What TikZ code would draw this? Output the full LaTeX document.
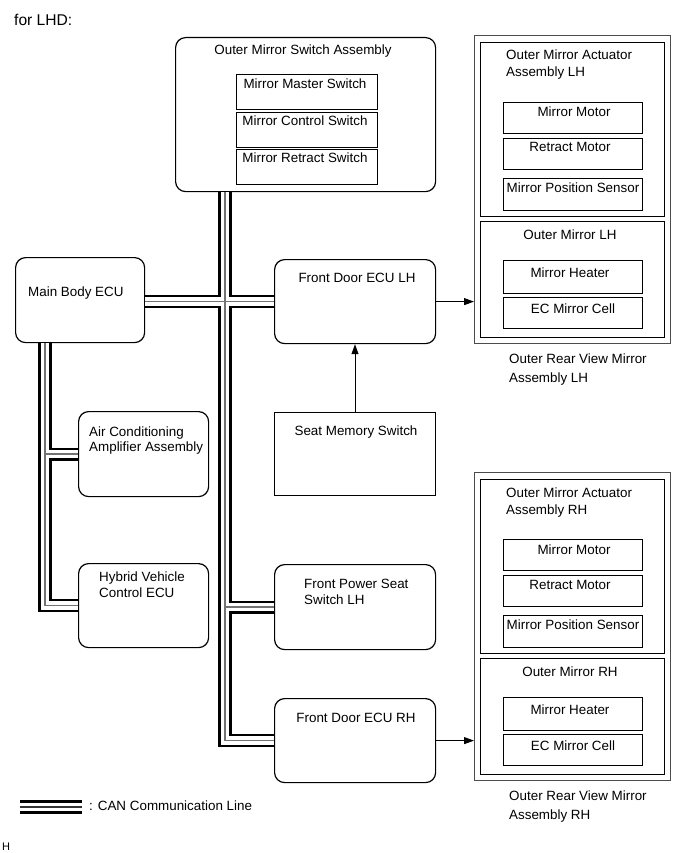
\documentclass[tikz,border=0pt]{standalone}
\usepackage{fontspec}
\setmainfont{Liberation Sans}
\usetikzlibrary{arrows.meta}
\newcommand\fs{\fontsize{13.4}{16}\selectfont}
\newcommand\boxat[6]{\node[#6, minimum width={(#4-#2)*1pt}, minimum height={(#5-#3)*1pt}, anchor=north west] (#1) at (#2,#3) {};}
\tikzset{
  rbox/.style={draw, line width=1.2pt, rounded corners=10pt, fill=white, inner sep=0pt},
  sbox/.style={draw, line width=1pt, fill=white, inner sep=0pt},
  obox/.style={draw=black!70, line width=1pt, fill=white, inner sep=0pt},
  txt/.style={inner sep=0pt, font=\fs},
  canblack/.style={line width=13.2pt, draw=black},
  canwhite/.style={line width=8.6pt, draw=white},
  cangray/.style={line width=1.6pt, draw=black!55},
  sig/.style={line width=0.9pt, -{Triangle[length=10pt,width=7pt]}},
}
\begin{document}
\begin{tikzpicture}[x=1pt,y=-1pt]
\useasboundingbox (0,0) rectangle (689,853);
% ---------- boxes ----------
\boxat{oms}{175}{37}{435}{191}{rbox}
\boxat{mms}{236}{74}{377}{109}{sbox}
\boxat{mcs}{236}{112}{377}{147}{sbox}
\boxat{mrs}{236}{149}{377}{184}{sbox}
\boxat{mb}{15}{257}{144}{342}{rbox}
\boxat{fdl}{274}{259}{435}{343}{rbox}
\boxat{sms}{274}{412}{435}{495}{sbox}
\boxat{ac}{78}{411}{208}{496}{rbox}
\boxat{hv}{78}{563}{208}{647}{rbox}
\boxat{fps}{274}{564}{435}{649}{rbox}
\boxat{fdr}{274}{698}{435}{782}{rbox}
% LH mirror assembly
\boxat{lo}{474}{35}{670}{343}{obox}
\boxat{la}{480}{42}{664}{216}{sbox}
\boxat{lm}{480}{221}{664}{337}{sbox}
\boxat{lmm}{503}{102}{642}{133}{sbox}
\boxat{lrm}{503}{138}{642}{169}{sbox}
\boxat{lps}{503}{178}{642}{210}{sbox}
\boxat{lmh}{503}{260}{642}{293}{sbox}
\boxat{lec}{503}{297}{642}{328}{sbox}
% RH mirror assembly
\boxat{ro}{474}{472}{670}{780}{obox}
\boxat{ra}{480}{479}{664}{653}{sbox}
\boxat{rm}{480}{658}{664}{774}{sbox}
\boxat{rmm}{503}{539}{642}{570}{sbox}
\boxat{rrm}{503}{575}{642}{606}{sbox}
\boxat{rps}{503}{615}{642}{647}{sbox}
\boxat{rmh}{503}{697}{642}{730}{sbox}
\boxat{rec}{503}{734}{642}{765}{sbox}
% ---------- CAN lines ----------
\coordinate (tx) at (225,0);
\coordinate (lx) at (45,0);
\coordinate (lg1) at (20,807);
\coordinate (lg2) at (82,807);
\newcommand\canall[1]{%
  \draw[#1] (oms.south -| tx) |- (fdr.west);
  \draw[#1] (mb.east |- fdl.west) -- (fdl.west);
  \draw[#1] (tx |- fps.west) -- (fps.west);
  \draw[#1] (mb.south -| lx) |- (hv.west);
  \draw[#1] (lx |- ac.west) -- (ac.west);
}
\canall{canblack}
\canall{canwhite}
\canall{cangray}
% legend
\draw[canblack] (lg1) -- (lg2);
\draw[canwhite] (lg1) -- (lg2);
\draw[line width=1.6pt, black!80] (lg1) -- (lg2);
% ---------- signal arrows ----------
\draw[sig] (fdl.east) -- (lo.west |- fdl.east);
\draw[sig] (fdr.east) -- (ro.west |- fdr.east);
\draw[sig] (sms.north) -- (sms.north |- fdl.south);
% ---------- texts ----------
\node[txt, anchor=base west, font=\fontsize{15.6}{18}\selectfont] (hdr) at (14,26) {for LHD:};
\node[txt, anchor=base] (t1) at (303,55) {Outer Mirror Switch Assembly};
\node[txt, anchor=base] (t2) at (305,89) {Mirror Master Switch};
\node[txt, anchor=base] (t3) at (305,126) {Mirror Control Switch};
\node[txt, anchor=base] (t4) at (305,163) {Mirror Retract Switch};
\node[txt, anchor=base west] (t5) at (28,296) {Main Body ECU};
\node[txt, anchor=base] (t6) at (357,282) {Front Door ECU LH};
\node[txt, anchor=base] (t7) at (356,435) {Seat Memory Switch};
\node[txt, anchor=base west] (t8a) at (89,436) {Air Conditioning};
\node[txt, anchor=base west] (t8b) at (89,451) {Amplifier Assembly};
\node[txt, anchor=base west] (t9a) at (99,581) {Hybrid Vehicle};
\node[txt, anchor=base west] (t9b) at (99,597) {Control ECU};
\node[txt, anchor=base west] (t10a) at (304,588) {Front Power Seat};
\node[txt, anchor=base west] (t10b) at (304,604) {Switch LH};
\node[txt, anchor=base] (t11) at (356,722) {Front Door ECU RH};
% LH texts
\node[txt, anchor=base west] (l1a) at (506,60) {Outer Mirror Actuator};
\node[txt, anchor=base west] (l1b) at (506,77) {Assembly LH};
\node[txt, anchor=base] (l2) at (574,117) {Mirror Motor};
\node[txt, anchor=base] (l3) at (570,152) {Retract Motor};
\node[txt, anchor=base] (l4) at (573,192) {Mirror Position Sensor};
\node[txt, anchor=base] (l5) at (570,239) {Outer Mirror LH};
\node[txt, anchor=base] (l6) at (570,277) {Mirror Heater};
\node[txt, anchor=base] (l7) at (573,313) {EC Mirror Cell};
\node[txt, anchor=base west] (l8a) at (509,363) {Outer Rear View Mirror};
\node[txt, anchor=base west] (l8b) at (509,382) {Assembly LH};
% RH texts
\node[txt, anchor=base west] (r1a) at (506,497) {Outer Mirror Actuator};
\node[txt, anchor=base west] (r1b) at (506,514) {Assembly RH};
\node[txt, anchor=base] (r2) at (574,554) {Mirror Motor};
\node[txt, anchor=base] (r3) at (570,589) {Retract Motor};
\node[txt, anchor=base] (r4) at (573,629) {Mirror Position Sensor};
\node[txt, anchor=base] (r5) at (570,676) {Outer Mirror RH};
\node[txt, anchor=base] (r6) at (570,714) {Mirror Heater};
\node[txt, anchor=base] (r7) at (573,750) {EC Mirror Cell};
\node[txt, anchor=base west] (r8a) at (509,800) {Outer Rear View Mirror};
\node[txt, anchor=base west] (r8b) at (509,819) {Assembly RH};
% legend text
\node[txt, anchor=base west] (lgt) at (89,810) {: CAN Communication Line};
\node[txt, anchor=base west, font=\fontsize{11}{13}\selectfont] (hh) at (2,850) {H};
\end{tikzpicture}
\end{document}
